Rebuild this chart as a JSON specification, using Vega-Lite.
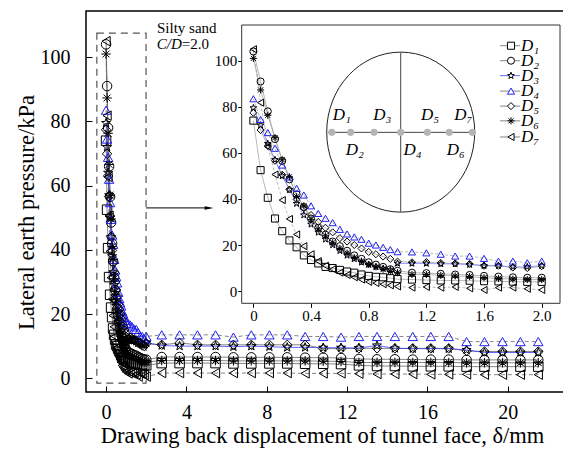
{
"$schema": "https://vega.github.io/schema/vega-lite/v6.json",
"width": 478, "height": 381,
"autosize": {"type": "none"},
"padding": {"left": 86, "top": 11, "right": 0, "bottom": 58},
"background": "white",
"config": {
  "font": "Liberation Serif",
  "view": {"stroke": "black", "strokeWidth": 1.5},
  "axis": {"grid": false, "domain": false, "labelFont": "Liberation Serif", "titleFont": "Liberation Serif", "labelColor": "black", "titleColor": "black", "tickColor": "black", "titleFontWeight": "normal"}
},
"datasets": {
"pts": [
{"s":"D1","x":0,"y":74},{"s":"D1","x":0.05,"y":52.5},{"s":"D1","x":0.1,"y":40.5},{"s":"D1","x":0.15,"y":31.5},{"s":"D1","x":0.2,"y":26},{"s":"D1","x":0.25,"y":22},{"s":"D1","x":0.3,"y":19},{"s":"D1","x":0.35,"y":15.5},{"s":"D1","x":0.4,"y":13.5},{"s":"D1","x":0.45,"y":12},{"s":"D1","x":0.5,"y":10.5},{"s":"D1","x":0.55,"y":10},{"s":"D1","x":0.6,"y":9.2},{"s":"D1","x":0.65,"y":8.5},{"s":"D1","x":0.7,"y":8},{"s":"D1","x":0.75,"y":7.2},{"s":"D1","x":0.8,"y":6.6},{"s":"D1","x":0.85,"y":6.2},{"s":"D1","x":0.9,"y":6},{"s":"D1","x":0.95,"y":5.6},{"s":"D1","x":1.0,"y":5.2},{"s":"D1","x":1.1,"y":5},{"s":"D1","x":1.2,"y":4.8},{"s":"D1","x":1.3,"y":4.6},{"s":"D1","x":1.4,"y":4.6},{"s":"D1","x":1.5,"y":4.5},{"s":"D1","x":1.6,"y":4.3},{"s":"D1","x":1.7,"y":4.2},{"s":"D1","x":1.8,"y":4.1},{"s":"D1","x":1.9,"y":4},{"s":"D1","x":2.0,"y":4},
{"s":"D1","x":2.77,"y":4.7},{"s":"D1","x":3.66,"y":4.7},{"s":"D1","x":4.55,"y":4.7},{"s":"D1","x":5.45,"y":4.7},{"s":"D1","x":6.34,"y":4.6},{"s":"D1","x":7.23,"y":4.6},{"s":"D1","x":8.13,"y":4.6},{"s":"D1","x":9.02,"y":4.6},{"s":"D1","x":9.91,"y":4.5},{"s":"D1","x":10.81,"y":4.5},{"s":"D1","x":11.7,"y":4.4},{"s":"D1","x":12.59,"y":4.0},{"s":"D1","x":13.49,"y":3.8},{"s":"D1","x":14.38,"y":3.8},{"s":"D1","x":15.27,"y":3.7},{"s":"D1","x":16.17,"y":3.7},{"s":"D1","x":17.06,"y":3.7},{"s":"D1","x":17.95,"y":3.6},{"s":"D1","x":18.84,"y":3.6},{"s":"D1","x":19.74,"y":3.6},{"s":"D1","x":20.63,"y":3.6},{"s":"D1","x":21.52,"y":3.6},
{"s":"D2","x":0,"y":104},{"s":"D2","x":0.05,"y":91},{"s":"D2","x":0.1,"y":78},{"s":"D2","x":0.15,"y":66},{"s":"D2","x":0.2,"y":56.5},{"s":"D2","x":0.25,"y":48.5},{"s":"D2","x":0.3,"y":42},{"s":"D2","x":0.35,"y":36.5},{"s":"D2","x":0.4,"y":31.5},{"s":"D2","x":0.45,"y":27.5},{"s":"D2","x":0.5,"y":24.5},{"s":"D2","x":0.55,"y":21.5},{"s":"D2","x":0.6,"y":19.5},{"s":"D2","x":0.65,"y":17.5},{"s":"D2","x":0.7,"y":15.5},{"s":"D2","x":0.75,"y":14},{"s":"D2","x":0.8,"y":12.5},{"s":"D2","x":0.85,"y":11.5},{"s":"D2","x":0.9,"y":10.5},{"s":"D2","x":0.95,"y":9.5},{"s":"D2","x":1.0,"y":8.8},{"s":"D2","x":1.1,"y":8},{"s":"D2","x":1.2,"y":7.8},{"s":"D2","x":1.3,"y":7.5},{"s":"D2","x":1.4,"y":7.2},{"s":"D2","x":1.5,"y":7},{"s":"D2","x":1.6,"y":6.6},{"s":"D2","x":1.7,"y":6.3},{"s":"D2","x":1.8,"y":6},{"s":"D2","x":1.9,"y":5.8},{"s":"D2","x":2.0,"y":5.8},
{"s":"D2","x":2.77,"y":6.6},{"s":"D2","x":3.66,"y":6.6},{"s":"D2","x":4.55,"y":6.6},{"s":"D2","x":5.45,"y":6.6},{"s":"D2","x":6.34,"y":6.5},{"s":"D2","x":7.23,"y":6.5},{"s":"D2","x":8.13,"y":6.5},{"s":"D2","x":9.02,"y":6.5},{"s":"D2","x":9.91,"y":6.4},{"s":"D2","x":10.81,"y":6.4},{"s":"D2","x":11.7,"y":6.3},{"s":"D2","x":12.59,"y":6.0},{"s":"D2","x":13.49,"y":5.9},{"s":"D2","x":14.38,"y":5.9},{"s":"D2","x":15.27,"y":5.8},{"s":"D2","x":16.17,"y":5.8},{"s":"D2","x":17.06,"y":5.8},{"s":"D2","x":17.95,"y":5.7},{"s":"D2","x":18.84,"y":5.7},{"s":"D2","x":19.74,"y":5.7},{"s":"D2","x":20.63,"y":5.7},{"s":"D2","x":21.52,"y":5.7},
{"s":"D3","x":0,"y":79.5},{"s":"D3","x":0.05,"y":72},{"s":"D3","x":0.1,"y":64},{"s":"D3","x":0.15,"y":57},{"s":"D3","x":0.2,"y":50},{"s":"D3","x":0.25,"y":44},{"s":"D3","x":0.3,"y":38},{"s":"D3","x":0.35,"y":33},{"s":"D3","x":0.4,"y":29},{"s":"D3","x":0.45,"y":25.5},{"s":"D3","x":0.5,"y":22.5},{"s":"D3","x":0.55,"y":20},{"s":"D3","x":0.6,"y":17.5},{"s":"D3","x":0.65,"y":15.5},{"s":"D3","x":0.7,"y":14},{"s":"D3","x":0.75,"y":12.5},{"s":"D3","x":0.8,"y":11.5},{"s":"D3","x":0.85,"y":10.5},{"s":"D3","x":0.9,"y":9.8},{"s":"D3","x":0.95,"y":9.2},{"s":"D3","x":1.0,"y":12},{"s":"D3","x":1.1,"y":12},{"s":"D3","x":1.2,"y":12},{"s":"D3","x":1.3,"y":11.8},{"s":"D3","x":1.4,"y":11.8},{"s":"D3","x":1.5,"y":11.5},{"s":"D3","x":1.6,"y":11},{"s":"D3","x":1.7,"y":11},{"s":"D3","x":1.8,"y":10.5},{"s":"D3","x":1.9,"y":10.5},{"s":"D3","x":2.0,"y":11},
{"s":"D3","x":2.77,"y":10.2},{"s":"D3","x":3.66,"y":10},{"s":"D3","x":4.55,"y":10},{"s":"D3","x":5.45,"y":10},{"s":"D3","x":6.34,"y":9.8},{"s":"D3","x":7.23,"y":10},{"s":"D3","x":8.13,"y":9.8},{"s":"D3","x":9.02,"y":9.6},{"s":"D3","x":9.91,"y":9.6},{"s":"D3","x":10.81,"y":9.5},{"s":"D3","x":11.7,"y":9.5},{"s":"D3","x":12.59,"y":9.4},{"s":"D3","x":13.49,"y":10.2},{"s":"D3","x":14.38,"y":9.3},{"s":"D3","x":15.27,"y":9.2},{"s":"D3","x":16.17,"y":9.2},{"s":"D3","x":17.06,"y":9.2},{"s":"D3","x":17.95,"y":8.8},{"s":"D3","x":18.84,"y":8},{"s":"D3","x":19.74,"y":8},{"s":"D3","x":20.63,"y":8},{"s":"D3","x":21.52,"y":8},
{"s":"D4","x":0,"y":83.5},{"s":"D4","x":0.05,"y":74.5},{"s":"D4","x":0.1,"y":68.8},{"s":"D4","x":0.15,"y":62},{"s":"D4","x":0.2,"y":54.7},{"s":"D4","x":0.25,"y":49.5},{"s":"D4","x":0.3,"y":44.6},{"s":"D4","x":0.35,"y":41.7},{"s":"D4","x":0.4,"y":37},{"s":"D4","x":0.45,"y":33.7},{"s":"D4","x":0.5,"y":31.6},{"s":"D4","x":0.55,"y":29.7},{"s":"D4","x":0.6,"y":26.8},{"s":"D4","x":0.65,"y":24.8},{"s":"D4","x":0.7,"y":23.5},{"s":"D4","x":0.75,"y":22.5},{"s":"D4","x":0.8,"y":20.8},{"s":"D4","x":0.85,"y":20},{"s":"D4","x":0.9,"y":19},{"s":"D4","x":0.95,"y":18},{"s":"D4","x":1.0,"y":17.1},{"s":"D4","x":1.1,"y":17},{"s":"D4","x":1.2,"y":16.6},{"s":"D4","x":1.3,"y":16},{"s":"D4","x":1.4,"y":15.2},{"s":"D4","x":1.5,"y":15.2},{"s":"D4","x":1.6,"y":14.2},{"s":"D4","x":1.7,"y":13},{"s":"D4","x":1.8,"y":13},{"s":"D4","x":1.9,"y":12.3},{"s":"D4","x":2.0,"y":13},
{"s":"D4","x":2.77,"y":13.5},{"s":"D4","x":3.66,"y":13.5},{"s":"D4","x":4.55,"y":13.5},{"s":"D4","x":5.45,"y":13.5},{"s":"D4","x":6.34,"y":12.8},{"s":"D4","x":7.23,"y":13.5},{"s":"D4","x":8.13,"y":13.5},{"s":"D4","x":9.02,"y":13.5},{"s":"D4","x":9.91,"y":13},{"s":"D4","x":10.81,"y":13},{"s":"D4","x":11.7,"y":12.8},{"s":"D4","x":12.59,"y":13},{"s":"D4","x":13.49,"y":13},{"s":"D4","x":14.38,"y":13},{"s":"D4","x":15.27,"y":13},{"s":"D4","x":16.17,"y":13},{"s":"D4","x":17.06,"y":13},{"s":"D4","x":17.95,"y":11.4},{"s":"D4","x":18.84,"y":11.4},{"s":"D4","x":19.74,"y":11.4},{"s":"D4","x":20.63,"y":11.4},{"s":"D4","x":21.52,"y":11.4},
{"s":"D5","x":0,"y":77.4},{"s":"D5","x":0.05,"y":69.9},{"s":"D5","x":0.1,"y":63},{"s":"D5","x":0.15,"y":56.6},{"s":"D5","x":0.2,"y":50.5},{"s":"D5","x":0.25,"y":44.1},{"s":"D5","x":0.3,"y":39.8},{"s":"D5","x":0.35,"y":36},{"s":"D5","x":0.4,"y":33},{"s":"D5","x":0.45,"y":30},{"s":"D5","x":0.5,"y":27.5},{"s":"D5","x":0.55,"y":25.5},{"s":"D5","x":0.6,"y":23},{"s":"D5","x":0.65,"y":21.5},{"s":"D5","x":0.7,"y":20},{"s":"D5","x":0.75,"y":18.5},{"s":"D5","x":0.8,"y":17},{"s":"D5","x":0.85,"y":16},{"s":"D5","x":0.9,"y":15},{"s":"D5","x":0.95,"y":14},{"s":"D5","x":1.0,"y":12.8},{"s":"D5","x":1.1,"y":12.5},{"s":"D5","x":1.2,"y":12.6},{"s":"D5","x":1.3,"y":12.2},{"s":"D5","x":1.4,"y":12},{"s":"D5","x":1.5,"y":11.8},{"s":"D5","x":1.6,"y":11},{"s":"D5","x":1.7,"y":11},{"s":"D5","x":1.8,"y":10.2},{"s":"D5","x":1.9,"y":10},{"s":"D5","x":2.0,"y":10.8},
{"s":"D5","x":2.77,"y":10.4},{"s":"D5","x":3.66,"y":11},{"s":"D5","x":4.55,"y":10.4},{"s":"D5","x":5.45,"y":10.4},{"s":"D5","x":6.34,"y":10.4},{"s":"D5","x":7.23,"y":10.4},{"s":"D5","x":8.13,"y":10.4},{"s":"D5","x":9.02,"y":10.4},{"s":"D5","x":9.91,"y":10.4},{"s":"D5","x":10.81,"y":9.2},{"s":"D5","x":11.7,"y":9.2},{"s":"D5","x":12.59,"y":9.3},{"s":"D5","x":13.49,"y":9.3},{"s":"D5","x":14.38,"y":9.3},{"s":"D5","x":15.27,"y":9.3},{"s":"D5","x":16.17,"y":9.3},{"s":"D5","x":17.06,"y":9.3},{"s":"D5","x":17.95,"y":8.5},{"s":"D5","x":18.84,"y":8.3},{"s":"D5","x":19.74,"y":8.3},{"s":"D5","x":20.63,"y":8.3},{"s":"D5","x":21.52,"y":8.3},
{"s":"D6","x":0,"y":101},{"s":"D6","x":0.05,"y":87.3},{"s":"D6","x":0.1,"y":76.3},{"s":"D6","x":0.15,"y":66.6},{"s":"D6","x":0.2,"y":57},{"s":"D6","x":0.25,"y":49.6},{"s":"D6","x":0.3,"y":41},{"s":"D6","x":0.35,"y":37},{"s":"D6","x":0.4,"y":31},{"s":"D6","x":0.45,"y":27},{"s":"D6","x":0.5,"y":24},{"s":"D6","x":0.55,"y":21},{"s":"D6","x":0.6,"y":18.5},{"s":"D6","x":0.65,"y":16.5},{"s":"D6","x":0.7,"y":14.5},{"s":"D6","x":0.75,"y":13},{"s":"D6","x":0.8,"y":11.5},{"s":"D6","x":0.85,"y":10.5},{"s":"D6","x":0.9,"y":9.5},{"s":"D6","x":0.95,"y":8.5},{"s":"D6","x":1.0,"y":8},{"s":"D6","x":1.1,"y":7.2},{"s":"D6","x":1.2,"y":7.2},{"s":"D6","x":1.3,"y":6.8},{"s":"D6","x":1.4,"y":6.6},{"s":"D6","x":1.5,"y":6.3},{"s":"D6","x":1.6,"y":5.8},{"s":"D6","x":1.7,"y":5.5},{"s":"D6","x":1.8,"y":5.2},{"s":"D6","x":1.9,"y":5},{"s":"D6","x":2.0,"y":5},
{"s":"D6","x":2.77,"y":5.5},{"s":"D6","x":3.66,"y":5.5},{"s":"D6","x":4.55,"y":5.5},{"s":"D6","x":5.45,"y":5.5},{"s":"D6","x":6.34,"y":5.4},{"s":"D6","x":7.23,"y":5.4},{"s":"D6","x":8.13,"y":5.4},{"s":"D6","x":9.02,"y":5.4},{"s":"D6","x":9.91,"y":5.4},{"s":"D6","x":10.81,"y":5.3},{"s":"D6","x":11.7,"y":5.2},{"s":"D6","x":12.59,"y":4.9},{"s":"D6","x":13.49,"y":4.9},{"s":"D6","x":14.38,"y":4.9},{"s":"D6","x":15.27,"y":4.9},{"s":"D6","x":16.17,"y":4.9},{"s":"D6","x":17.06,"y":4.9},{"s":"D6","x":17.95,"y":4.8},{"s":"D6","x":18.84,"y":4.8},{"s":"D6","x":19.74,"y":4.8},{"s":"D6","x":20.63,"y":4.8},{"s":"D6","x":21.52,"y":4.8},
{"s":"D7","x":0,"y":105},{"s":"D7","x":0.05,"y":81.8},{"s":"D7","x":0.1,"y":62.7},{"s":"D7","x":0.15,"y":50.6},{"s":"D7","x":0.2,"y":39.5},{"s":"D7","x":0.25,"y":31.3},{"s":"D7","x":0.3,"y":24.6},{"s":"D7","x":0.35,"y":19.5},{"s":"D7","x":0.4,"y":16},{"s":"D7","x":0.45,"y":13},{"s":"D7","x":0.5,"y":11},{"s":"D7","x":0.55,"y":9.5},{"s":"D7","x":0.6,"y":8},{"s":"D7","x":0.65,"y":7},{"s":"D7","x":0.7,"y":6},{"s":"D7","x":0.75,"y":5},{"s":"D7","x":0.8,"y":4},{"s":"D7","x":0.85,"y":3.5},{"s":"D7","x":0.9,"y":3},{"s":"D7","x":0.95,"y":2.5},{"s":"D7","x":1.0,"y":2},{"s":"D7","x":1.1,"y":1.5},{"s":"D7","x":1.2,"y":1.8},{"s":"D7","x":1.3,"y":1.5},{"s":"D7","x":1.4,"y":1.8},{"s":"D7","x":1.5,"y":1.2},{"s":"D7","x":1.6,"y":0.5},{"s":"D7","x":1.7,"y":1.5},{"s":"D7","x":1.8,"y":1.5},{"s":"D7","x":1.9,"y":1},{"s":"D7","x":2.0,"y":0.5},
{"s":"D7","x":2.77,"y":1.6},{"s":"D7","x":3.66,"y":1.6},{"s":"D7","x":4.55,"y":1.6},{"s":"D7","x":5.45,"y":1.6},{"s":"D7","x":6.34,"y":1.6},{"s":"D7","x":7.23,"y":1.6},{"s":"D7","x":8.13,"y":1.6},{"s":"D7","x":9.02,"y":1.6},{"s":"D7","x":9.91,"y":1.5},{"s":"D7","x":10.81,"y":1.5},{"s":"D7","x":11.7,"y":1.5},{"s":"D7","x":12.59,"y":1.4},{"s":"D7","x":13.49,"y":1.3},{"s":"D7","x":14.38,"y":1.3},{"s":"D7","x":15.27,"y":1.3},{"s":"D7","x":16.17,"y":1.2},{"s":"D7","x":17.06,"y":1.2},{"s":"D7","x":17.95,"y":1.2},{"s":"D7","x":18.84,"y":1.1},{"s":"D7","x":19.74,"y":1.1},{"s":"D7","x":20.63,"y":1.1},{"s":"D7","x":21.52,"y":1.1}
]
},
"resolve": {"scale": {"x": "independent", "y": "independent"}},
"layer": [
{
  "encoding": {
    "x": {"field": "x", "type": "quantitative", "scale": {"domain": [-1, 22.8], "nice": false, "zero": false},
      "axis": {"values": [0,4,8,12,16,20], "orient": "bottom", "labelFontSize": 20, "tickSize": -6, "labelPadding": 16, "title": "Drawing back displacement of tunnel face, δ/mm", "titleFontSize": 22.5, "titleBaseline": "alphabetic", "titleY": 50, "titleX": 236}},
    "y": {"field": "y", "type": "quantitative", "scale": {"domain": [-4.3, 114.4], "nice": false, "zero": false},
      "axis": {"values": [0,20,40,60,80,100], "orient": "left", "labelFontSize": 20, "tickSize": -6, "labelPadding": 22, "title": "Lateral earth pressure/kPa", "titleFontSize": 22.5, "titleBaseline": "alphabetic", "titleX": -53, "titleY": 201}}
  },
  "layer": [
    {"data": {"values": [{"x": -0.46, "x2": 1.99, "y": -1.56, "y2": 107.5}]},
     "mark": {"type": "rect", "fillOpacity": 0, "stroke": "#555", "strokeWidth": 1.2, "strokeDash": [7, 5]},
     "encoding": {"x2": {"field": "x2"}, "y2": {"field": "y2"}}},
    {"data": {"name": "pts"}, "transform": [{"filter": "indexof(['D1','D2','D5','D6'], datum.s) >= 0"}],
     "mark": {"type": "line", "stroke": "#666", "strokeWidth": 0.8},
     "encoding": {"detail": {"field": "s"}, "order": {"field": "x", "type": "quantitative"}}},
    {"data": {"name": "pts"}, "transform": [{"filter": "datum.s == 'D4' || datum.s == 'D7'"}],
     "mark": {"type": "line", "stroke": "#666", "strokeWidth": 0.8, "strokeDash": [4, 3]},
     "encoding": {"detail": {"field": "s"}, "order": {"field": "x", "type": "quantitative"}}},
    {"data": {"name": "pts"}, "transform": [{"filter": "datum.s == 'D3'"}],
     "mark": {"type": "line", "stroke": "#3b3bff", "strokeWidth": 0.8},
     "encoding": {"order": {"field": "x", "type": "quantitative"}}},
    {"data": {"name": "pts"},
     "mark": {"type": "point", "filled": false, "strokeWidth": 1, "size": 90, "opacity": 1},
     "encoding": {
       "shape": {"field": "s", "type": "nominal", "legend": null, "scale": {"domain": ["D1","D2","D3","D4","D5","D6","D7"], "range": ["square", "circle", "M0,-1L0.235,-0.324L0.951,-0.309L0.38,0.124L0.588,0.809L0,0.4L-0.588,0.809L-0.38,0.124L-0.951,-0.309L-0.235,-0.324Z", "triangle-up", "diamond", "M-1,0L1,0M0,-1L0,1M-0.72,-0.72L0.72,0.72M-0.72,0.72L0.72,-0.72", "triangle-left"]}},
       "color": {"field": "s", "type": "nominal", "legend": null, "scale": {"domain": ["D1","D2","D3","D4","D5","D6","D7"], "range": ["black","black","black","#2020f0","black","black","black"]}}
     }},
    {"data": {"values": [{"x": 1.99, "y": 53.05}, {"x": 5.1, "y": 53.05}]},
     "mark": {"type": "line", "stroke": "black", "strokeWidth": 1}, "encoding": {}},
    {"data": {"values": [{"x": 5.13, "y": 53.05}]},
     "mark": {"type": "point", "shape": "M-1,-0.4L1,0L-1,0.4Z", "filled": true, "color": "black", "size": 80, "opacity": 1}, "encoding": {}},
    {"data": {"values": [{"x": 4.02, "y": 109.0, "t": "Silty sand"}]},
     "mark": {"type": "text", "fontSize": 15, "align": "center", "baseline": "middle", "color": "black"},
     "encoding": {"text": {"field": "t"}}},
    {"data": {"values": [{"x": 3.77, "y": 104.1, "t": "C/D"}]},
     "mark": {"type": "text", "fontSize": 15, "fontStyle": "italic", "align": "right", "baseline": "middle", "color": "black"},
     "encoding": {"text": {"field": "t"}}},
    {"data": {"values": [{"x": 3.77, "y": 104.1, "t": "=2.0"}]},
     "mark": {"type": "text", "fontSize": 15, "align": "left", "baseline": "middle", "color": "black"},
     "encoding": {"text": {"field": "t"}}}
  ]
},
{
  "encoding": {
    "x": {"field": "x", "type": "quantitative", "scale": {"domain": [-0.081, 2.127], "range": [155.7, 474], "nice": false, "zero": false},
      "axis": {"values": [0,0.4,0.8,1.2,1.6,2.0], "orient": "bottom", "offset": -88.7, "labelFontSize": 15, "tickSize": 4, "labelPadding": 1, "title": null, "labelExpr": "datum.value == 0 ? '0' : format(datum.value, '.1f')"}},
    "y": {"field": "y", "type": "quantitative", "scale": {"domain": [-5.3, 115.5], "range": [292.3, 14], "nice": false, "zero": false},
      "axis": {"values": [0,20,40,60,80,100], "orient": "left", "offset": -155.7, "labelFontSize": 15, "tickSize": 4, "labelPadding": 1, "title": null}}
  },
  "layer": [
    {"data": {"values": [{"x": -0.081, "x2": 2.127, "y": -5.3, "y2": 115.5}]},
     "mark": {"type": "rect", "fill": "white", "stroke": "#333", "strokeWidth": 1},
     "encoding": {"x2": {"field": "x2"}, "y2": {"field": "y2"}}},
    {"data": {"name": "pts"}, "transform": [{"filter": "datum.x <= 2.001 && indexof(['D1','D2','D5','D6'], datum.s) >= 0"}],
     "mark": {"type": "line", "stroke": "#999", "strokeWidth": 0.7},
     "encoding": {"detail": {"field": "s"}, "order": {"field": "x", "type": "quantitative"}}},
    {"data": {"name": "pts"}, "transform": [{"filter": "datum.x <= 2.001 && (datum.s == 'D4' || datum.s == 'D7')"}],
     "mark": {"type": "line", "stroke": "#999", "strokeWidth": 0.7, "strokeDash": [3, 2]},
     "encoding": {"detail": {"field": "s"}, "order": {"field": "x", "type": "quantitative"}}},
    {"data": {"name": "pts"}, "transform": [{"filter": "datum.x <= 2.001 && datum.s == 'D3'"}],
     "mark": {"type": "line", "stroke": "#7070ff", "strokeWidth": 0.7},
     "encoding": {"order": {"field": "x", "type": "quantitative"}}},
    {"data": {"name": "pts"}, "transform": [{"filter": "datum.x <= 2.001"}],
     "mark": {"type": "point", "filled": false, "strokeWidth": 1, "size": 50, "opacity": 1},
     "encoding": {
       "shape": {"field": "s", "type": "nominal", "legend": null},
       "color": {"field": "s", "type": "nominal", "legend": null}
     }},
    {"data": {"values": [{"x": 1.022, "y": 69.0}]},
     "mark": {"type": "point", "shape": "M-0.925,0A0.925,1,0,1,0,0.925,0A0.925,1,0,1,0,-0.925,0Z", "filled": false, "stroke": "#222", "strokeWidth": 1, "size": 25600, "opacity": 1},
     "encoding": {}},
    {"data": {"values": [{"x": 0.516, "x2": 1.544, "y": 68.9, "y2": 68.9}, {"x": 1.022, "x2": 1.022, "y": 34.4, "y2": 103.6}]},
     "mark": {"type": "rule", "stroke": "#444", "strokeWidth": 1},
     "encoding": {"x2": {"field": "x2"}, "y2": {"field": "y2"}}},
    {"data": {"values": [{"x": 0.544, "y": 68.9}, {"x": 0.675, "y": 68.9}, {"x": 0.837, "y": 68.9}, {"x": 1.022, "y": 68.9}, {"x": 1.207, "y": 68.9}, {"x": 1.359, "y": 68.9}, {"x": 1.519, "y": 68.9}]},
     "mark": {"type": "circle", "color": "#b4b4b4", "size": 50, "opacity": 1}, "encoding": {}},
    {"data": {"values": [{"x": 0.613, "y": 76.4, "t": "D₁"}, {"x": 0.894, "y": 76.4, "t": "D₃"}, {"x": 1.226, "y": 76.4, "t": "D₅"}, {"x": 1.456, "y": 76.4, "t": "D₇"}, {"x": 0.703, "y": 61.2, "t": "D₂"}, {"x": 1.105, "y": 61.2, "t": "D₄"}, {"x": 1.404, "y": 61.2, "t": "D₆"}]},
     "mark": {"type": "text", "fontSize": 17, "fontStyle": "italic", "align": "center", "baseline": "middle", "color": "black"},
     "encoding": {"text": {"field": "t"}}},
    {"data": {"values": [{"s": "D1", "x": 1.711, "x2": 1.85, "y": 106.5}, {"s": "D2", "x": 1.711, "x2": 1.85, "y": 100.0}, {"s": "D4", "x": 1.711, "x2": 1.85, "y": 86.8}, {"s": "D5", "x": 1.711, "x2": 1.85, "y": 80.3}, {"s": "D6", "x": 1.711, "x2": 1.85, "y": 73.9}, {"s": "D7", "x": 1.711, "x2": 1.85, "y": 66.9}]},
     "mark": {"type": "rule", "stroke": "#666", "strokeWidth": 0.8},
     "encoding": {"x2": {"field": "x2"}}},
    {"data": {"values": [{"s": "D3", "x": 1.711, "x2": 1.85, "y": 93.5}]},
     "mark": {"type": "rule", "stroke": "#3b3bff", "strokeWidth": 0.8},
     "encoding": {"x2": {"field": "x2"}}},
    {"data": {"values": [{"s": "D1", "x": 1.787, "y": 106.5}, {"s": "D2", "x": 1.787, "y": 100.0}, {"s": "D3", "x": 1.787, "y": 93.5}, {"s": "D4", "x": 1.787, "y": 86.8}, {"s": "D5", "x": 1.787, "y": 80.3}, {"s": "D6", "x": 1.787, "y": 73.9}, {"s": "D7", "x": 1.787, "y": 66.9}]},
     "mark": {"type": "point", "filled": false, "fill": "white", "strokeWidth": 1, "size": 50, "opacity": 1},
     "encoding": {
       "shape": {"field": "s", "type": "nominal", "legend": null},
       "color": {"field": "s", "type": "nominal", "legend": null}
     }},
    {"data": {"values": [{"x": 1.857, "y": 106.5, "t": "D₁"}, {"x": 1.857, "y": 100.0, "t": "D₂"}, {"x": 1.857, "y": 93.5, "t": "D₃"}, {"x": 1.857, "y": 86.8, "t": "D₄"}, {"x": 1.857, "y": 80.3, "t": "D₅"}, {"x": 1.857, "y": 73.9, "t": "D₆"}, {"x": 1.857, "y": 66.9, "t": "D₇"}]},
     "mark": {"type": "text", "fontSize": 17, "fontStyle": "italic", "align": "left", "baseline": "middle", "color": "black"},
     "encoding": {"text": {"field": "t"}}}
  ]
}
]
}
